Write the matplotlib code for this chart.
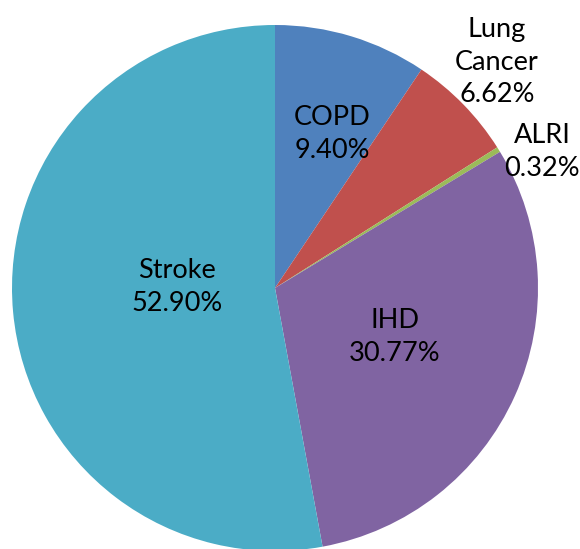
import matplotlib
matplotlib.use("Agg")
import matplotlib.pyplot as plt

categories = ["COPD", "Lung\nCancer", "ALRI", "IHD", "Stroke"]
values = [9.40, 6.62, 0.32, 30.77, 52.90]
colors = ["#4F81BD", "#C0504D", "#9BBB59", "#8064A2", "#4BACC6"]
# label positions (layout), in pie data coordinates (radius = 1)
label_xy = [(0.217, 0.586), (0.844, 0.859), (1.015, 0.517), (0.456, -0.186), (-0.373, 0.004)]

W, H = 580, 549
cx, cy, r = 275, 288, 263
fig = plt.figure(figsize=(W / 100, H / 100), dpi=100)
ax = fig.add_axes([(cx - r) / W, (H - cy - r) / H, 2 * r / W, 2 * r / H])
ax.pie(values, colors=colors, startangle=90, counterclock=False, radius=1,
       wedgeprops=dict(linewidth=0))
ax.set_xlim(-1, 1)
ax.set_ylim(-1, 1)
ax.set_aspect("equal")
ax.axis("off")

for cat, v, (x, y) in zip(categories, values, label_xy):
    ax.text(x, y, f"{cat}\n{v:.2f}%", ha="center", va="center", fontsize=19.5,
            family="Lato", linespacing=1.38, color="black")

fig.savefig("out.png", dpi=100)
